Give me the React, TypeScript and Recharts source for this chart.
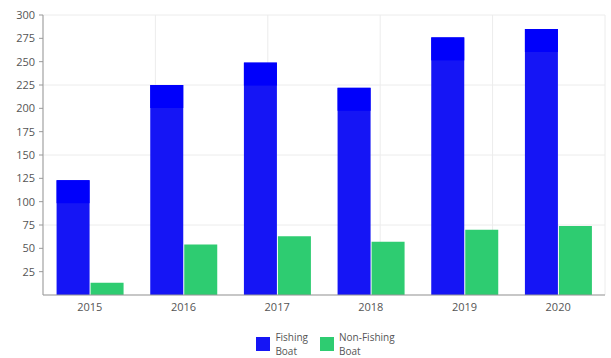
import { BarChart, Bar, XAxis, YAxis, CartesianGrid, Legend } from "recharts";

const years = ["2015", "2016", "2017", "2018", "2019", "2020"];
const fishing = [123, 225, 249, 222, 276, 285];
const nonFishing = [13, 54, 63, 57, 70, 74];
const yTicks = [25, 50, 75, 100, 125, 150, 175, 200, 225, 250, 275, 300];
const gridRows = [0, 75, 150, 225, 300];
const gridCols = [0, 1, 2, 3, 4, 5, 6];

const BLUE = "#1515f5";
const BLUE_TOP = "#0000fb";
const GREEN = "#2ecc71";
const FONT = "'Open Sans', 'Noto Sans', sans-serif";

const data = years.map((y, i) => ({
  year: y,
  fishing: fishing[i],
  nonFishing: nonFishing[i],
}));

// blue bars have a darker band at the top in the original
const FishingShape = (props: any) => {
  const { x, y, width, height } = props;
  if (!height || height <= 0) return null;
  const top = Math.min(23, height);
  return (
    <g>
      <rect x={x} y={y} width={width} height={height} fill={BLUE} />
      <rect x={x} y={y} width={width} height={top} fill={BLUE_TOP} />
    </g>
  );
};

const legendItems = [
  { color: BLUE, lines: ["Fishing", "Boat"] },
  { color: GREEN, lines: ["Non-Fishing", "Boat"] },
];

const LegendContent = () => (
  <div
    style={{
      display: "flex",
      justifyContent: "center",
      gap: 12,
      height: 28,
      fontFamily: FONT,
      fontSize: 10,
      color: "#555",
      paddingLeft: 46,
      transform: "translateY(3px)",
    }}
  >
    {legendItems.map((it) => (
      <div key={it.lines[0]} style={{ display: "flex", alignItems: "flex-start" }}>
        <span
          style={{
            width: 14,
            height: 14,
            marginTop: 7,
            marginRight: 5,
            background: it.color,
            display: "inline-block",
          }}
        />
        <div style={{ lineHeight: "14px" }}>
          {it.lines.map((l) => (
            <div key={l}>{l}</div>
          ))}
        </div>
      </div>
    ))}
  </div>
);

export default function App() {
  return (
    <div style={{ position: "absolute", left: 0, top: 0, background: "#fff" }}>
      <BarChart
        width={611}
        height={358}
        data={data}
        margin={{ top: 15, right: 6, left: 0, bottom: 3 }}
        barCategoryGap="14.5%"
        barGap={1}
      >
        <CartesianGrid
          xAxisId="grid"
          yAxisId="grid"
          stroke="#ececec"
          strokeWidth={1}
        />
        <XAxis
          dataKey="year"
          height={32}
          tick={{ fill: "#555", fontSize: 11, fontFamily: FONT }}
          axisLine={{ stroke: "#999" }}
          tickLine={false}
        />
        <XAxis
          xAxisId="grid"
          type="number"
          domain={[0, 6]}
          ticks={gridCols}
          allowDataOverflow
          hide
        />
        <YAxis
          width={43}
          domain={[0, 300]}
          ticks={yTicks}
          interval={0}
          tick={{ fill: "#555", fontSize: 11, fontFamily: FONT }}
          axisLine={{ stroke: "#999" }}
          tickLine={{ stroke: "#999" }}
          tickSize={4}
          tickMargin={4}
        />
        <YAxis
          yAxisId="grid"
          domain={[0, 300]}
          ticks={gridRows}
          allowDataOverflow
          hide
        />
        <Legend verticalAlign="bottom" content={<LegendContent />} />
        <Bar
          dataKey="fishing"
          name="Fishing Boat"
          fill={BLUE}
          shape={<FishingShape />}
          isAnimationActive={false}
        />
        <Bar
          dataKey="nonFishing"
          name="Non-Fishing Boat"
          fill={GREEN}
          isAnimationActive={false}
        />
      </BarChart>
    </div>
  );
}
